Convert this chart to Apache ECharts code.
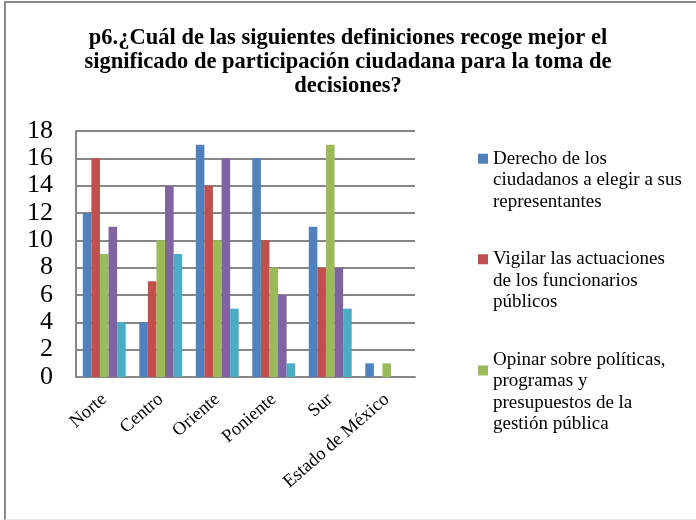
<!DOCTYPE html>
<html>
<head>
<meta charset="utf-8">
<script src="https://cdn.jsdelivr.net/npm/echarts@6/dist/echarts.min.js"></script>
<style>
  html, body { margin: 0; padding: 0; background: #fff; }
  #frame { position: absolute; left: 4px; top: 1px; width: 700px; height: 516px;
           border-left: 2px solid #8a8a8a; border-top: 2px solid #8a8a8a; border-bottom: 1px solid #e6e6e6; }
  #main { position: absolute; left: 0; top: 0; width: 696px; height: 520px; }
</style>
</head>
<body>
<div id="frame"></div>
<div id="main"></div>
<script>
// categorias (zonas)
var zonas = ['Norte', 'Centro', 'Oriente', 'Poniente', 'Sur', 'Estado de México'];

// nombres de las series
var nombres = [
    'Derecho de los ciudadanos a elegir a sus representantes',
    'Vigilar las actuaciones de los funcionarios públicos',
    'Opinar sobre políticas, programas y presupuestos de la gestión pública',
    'Serie 4',
    'Serie 5'
];

// texto de la leyenda, partido en lineas como en el original
var leyenda = {};
leyenda[nombres[0]] = 'Derecho de los\nciudadanos a elegir a sus\nrepresentantes';
leyenda[nombres[1]] = 'Vigilar las actuaciones\nde los funcionarios\npúblicos';
leyenda[nombres[2]] = 'Opinar sobre políticas,\nprogramas y\npresupuestos de la\ngestión pública';

// valores por serie
var derecho   = [12, 4, 17, 16, 11, 1];
var vigilar   = [16, 7, 14, 10, 8, 0];
var opinar    = [9, 10, 10, 8, 17, 1];
var serie4    = [11, 14, 16, 6, 8, 0];
var serie5    = [4, 9, 5, 1, 5, 0];

var colores = ['#4F81BD', '#C0504D', '#9BBB59', '#8064A2', '#4BACC6'];
var datos = [derecho, vigilar, opinar, serie4, serie5];

var fuente = '"Liberation Serif", "DejaVu Serif", serif';

var myChart = echarts.init(document.getElementById('main'), null, { renderer: 'canvas' });

var series = [];
for (var i = 0; i < datos.length; i++) {
    series.push({
        name: nombres[i],
        type: 'bar',
        data: datos[i],
        barGap: '0%',
        barCategoryGap: '24%',
        itemStyle: { color: colores[i] },
        animation: false
    });
}

var option = {
    animation: false,
    color: colores,
    title: {
        text: 'p6.¿Cuál de las siguientes definiciones recoge mejor el\nsignificado de participación ciudadana para la toma de\ndecisiones?',
        left: 'center',
        top: 26,
        padding: 0,
        textStyle: {
            fontFamily: fuente,
            fontWeight: 'bold',
            fontSize: 22.5,
            lineHeight: 24,
            color: '#000'
        }
    },
    legend: {
        data: [nombres[0], nombres[1], nombres[2]],
        orient: 'vertical',
        left: 478,
        top: 105,
        padding: 0,
        itemWidth: 10,
        itemHeight: 10,
        itemGap: -7,
        icon: 'rect',
        selectedMode: false,
        formatter: function (name) {
            // dos lineas vacias arriba para que el cuadro quede junto a la primera linea
            return '\n\n' + leyenda[name];
        },
        textStyle: {
            fontFamily: fuente,
            fontSize: 19,
            lineHeight: 21.5,
            color: '#000'
        }
    },
    grid: {
        left: 76,
        right: 281,
        top: 131,
        bottom: 143
    },
    xAxis: {
        type: 'category',
        data: zonas,
        axisLine: { lineStyle: { color: '#878787', width: 2 } },
        axisTick: { show: false },
        axisLabel: {
            rotate: 41,
            interval: 0,
            margin: 20,
            fontFamily: fuente,
            fontSize: 18.5,
            color: '#000'
        }
    },
    yAxis: {
        type: 'value',
        min: 0,
        max: 18,
        interval: 2,
        axisLine: { show: true, lineStyle: { color: '#878787', width: 2 } },
        axisTick: { show: false },
        splitLine: { lineStyle: { color: '#878787', width: 2 } },
        axisLabel: {
            margin: 23,
            fontFamily: fuente,
            fontSize: 26,
            color: '#000'
        }
    },
    series: series
};

myChart.setOption(option);
</script>
</body>
</html>
